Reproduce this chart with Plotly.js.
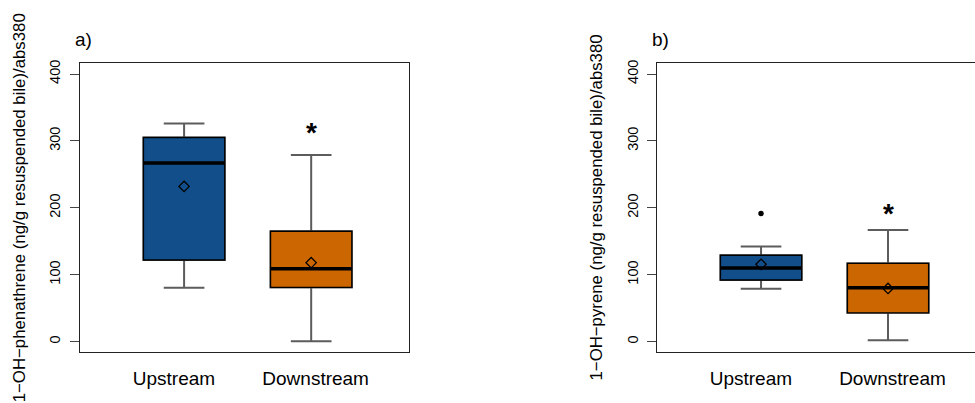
<!DOCTYPE html>
<html>
<head>
<meta charset="utf-8">
<script src="https://cdn.plot.ly/plotly-3.0.1.min.js"></script>
<style>html,body{margin:0;padding:0;background:#fff;}#chart{width:975px;height:403px;}</style>
</head>
<body>
<div id="chart"></div>
<script>
// ---- data ----
const categories = ['Upstream', 'Downstream'];
const panelLabels = ['a)', 'b)'];
const yTitles = ['1\u2212OH\u2212phenathrene (ng/g resuspended bile)/abs380',
                 '1\u2212OH\u2212pyrene (ng/g resuspended bile)/abs380'];
const yTicks = [0, 100, 200, 300, 400];

// panel a: 1-OH-phenanthrene
const phenLower  = [80.5, 0.5];
const phenQ1     = [122, 81];
const phenMedian = [267, 109];
const phenQ3     = [305, 165];
const phenUpper  = [326, 279];
const phenMean   = [232, 118];
const phenOutliers = [[], []];
const phenSigY   = [null, 320];

// panel b: 1-OH-pyrene
const pyrLower  = [79, 2];
const pyrQ1     = [92, 43];
const pyrMedian = [110, 80.5];
const pyrQ3     = [129, 117];
const pyrUpper  = [142, 167];
const pyrMean   = [115.6, 79.4];
const pyrOutliers = [[191.6], []];
const pyrSigY   = [null, 198.6];

// ---- style ----
const boxColors = ['#114E8A', '#CC6600'];
const FONT = 'Liberation Sans, Arial, Helvetica, sans-serif';
const boxWidth = 0.64;
const labelOffsets = [-0.08, 0.035];

const panels = [
  {lower: phenLower, q1: phenQ1, med: phenMedian, q3: phenQ3, upper: phenUpper, mean: phenMean, out: phenOutliers, sig: phenSigY, xa: 'x', ya: 'y'},
  {lower: pyrLower, q1: pyrQ1, med: pyrMedian, q3: pyrQ3, upper: pyrUpper, mean: pyrMean, out: pyrOutliers, sig: pyrSigY, xa: 'x2', ya: 'y2'}
];

const traces = [];
const annotations = [];
panels.forEach((p, pi) => {
  categories.forEach((c, i) => {
    const xpos = i + 1;
    const common = {type: 'box', x: [xpos], xaxis: p.xa, yaxis: p.ya, width: boxWidth,
      boxpoints: false, showlegend: false, hoverinfo: 'skip'};
    // whiskers (grey)
    traces.push(Object.assign({}, common, {
      lowerfence: [p.lower[i]], q1: [p.q1[i]], median: [p.med[i]], q3: [p.q3[i]], upperfence: [p.upper[i]],
      whiskerwidth: 0.5, fillcolor: boxColors[i], line: {color: '#5c5c5c', width: 2}
    }));
    // box body (black outline)
    traces.push(Object.assign({}, common, {
      lowerfence: [p.q1[i]], q1: [p.q1[i]], median: [p.med[i]], q3: [p.q3[i]], upperfence: [p.q3[i]],
      whiskerwidth: 0, fillcolor: boxColors[i], line: {color: '#000', width: 1.4}
    }));
    // thick median
    traces.push(Object.assign({}, common, {
      lowerfence: [p.med[i]], q1: [p.med[i]], median: [p.med[i]], q3: [p.med[i]], upperfence: [p.med[i]],
      whiskerwidth: 0, fillcolor: 'rgba(0,0,0,0)', line: {color: '#000', width: 3.4}
    }));
    // outliers
    if (p.out[i].length) {
      traces.push({type: 'scatter', mode: 'markers', x: p.out[i].map(() => xpos), y: p.out[i],
        xaxis: p.xa, yaxis: p.ya, showlegend: false, hoverinfo: 'skip',
        marker: {symbol: 'circle', size: 5.5, color: '#000'}});
    }
    // significance
    if (p.sig[i] !== null) {
      annotations.push({xref: p.xa, yref: p.ya, x: xpos, y: p.sig[i], text: '<b>*</b>', showarrow: false,
        font: {family: FONT, size: 28, color: '#000'}, yshift: -5});
    }
  });
  // means
  traces.push({type: 'scatter', mode: 'markers', x: categories.map((c, i) => i + 1), y: p.mean,
    xaxis: p.xa, yaxis: p.ya, showlegend: false, hoverinfo: 'skip',
    marker: {symbol: 'diamond-open', size: 8, color: '#000', line: {width: 1.3, color: '#000'}}});
});

const W = 975, H = 403;
const yDom = [(H - 352.3) / H, (H - 63.3) / H];
const xDomA = [80 / W, 409.3 / W];
const xDomB = [657.3 / W, 1];

function xaxis(dom, range, mirror) {
  return {domain: dom, range: range, showgrid: false, zeroline: false, fixedrange: true,
    showline: true, linecolor: '#222', linewidth: 1, mirror: mirror,
    tickmode: 'array', tickvals: categories.map((c, i) => i + 1 + labelOffsets[i]), ticktext: categories,
    ticks: '', ticklabelstandoff: 9, tickfont: {family: FONT, size: 19, color: '#000'}, automargin: false};
}
function yaxis(mirror, anchor) {
  return {domain: yDom, range: [-16, 416], anchor: anchor, showgrid: false, zeroline: false, fixedrange: true,
    showline: true, linecolor: '#222', linewidth: 1, mirror: mirror,
    tickmode: 'array', tickvals: yTicks, ticktext: yTicks.map(String), tickangle: -90,
    ticks: 'outside', ticklen: 9, tickwidth: 1, tickcolor: '#444',
    ticklabelstandoff: 4, tickfont: {family: FONT, size: 14.5, color: '#000'}, automargin: false};
}

// panel labels & y titles
[[xDomA[0], 19.5], [xDomB[0], 596.7]].forEach((d, k) => {
  annotations.push({xref: 'paper', yref: 'paper', x: d[0] - 7 / W, y: (H - 39) / H, xanchor: 'left', yanchor: 'middle',
    text: panelLabels[k], showarrow: false, font: {family: FONT, size: 19, color: '#000'}});
  annotations.push({xref: 'paper', yref: 'paper', x: d[1] / W, y: (yDom[0] + yDom[1]) / 2, xanchor: 'center', yanchor: 'middle',
    text: yTitles[k], textangle: -90, showarrow: false, font: {family: FONT, size: 16.8, color: '#000'}});
});

const layout = {
  width: W, height: H, margin: {l: 0, r: 0, t: 0, b: 0},
  paper_bgcolor: '#fff', plot_bgcolor: '#fff', showlegend: false, boxmode: 'overlay',
  xaxis: xaxis(xDomA, [0.181, 2.772], true),
  yaxis: yaxis(true, 'x'),
  xaxis2: xaxis(xDomB, [0.183, 2.685], true),
  yaxis2: yaxis(false, 'x2'),
  annotations: annotations
};
layout.xaxis2.anchor = 'y2';
layout.xaxis.anchor = 'y';

Plotly.newPlot('chart', traces, layout, {displayModeBar: false, staticPlot: true});
</script>
</body>
</html>
